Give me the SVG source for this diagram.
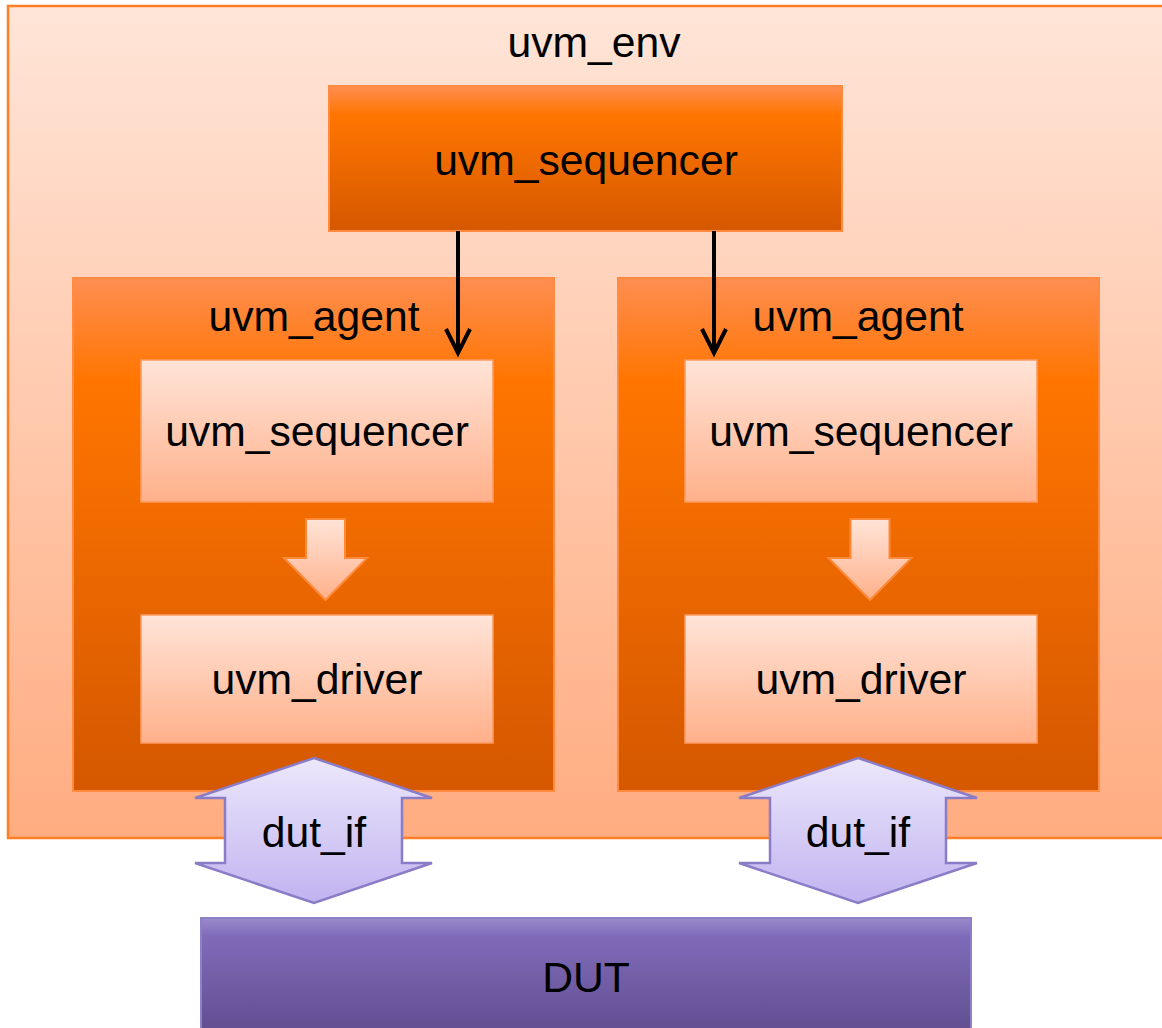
<svg xmlns="http://www.w3.org/2000/svg" width="1162" height="1028" viewBox="0 0 1162 1028">
  <defs>
    <linearGradient id="gEnv" x1="0" y1="0" x2="0" y2="1">
      <stop offset="0" stop-color="#FFE5D8"/>
      <stop offset="1" stop-color="#FFAC80"/>
    </linearGradient>
    <linearGradient id="gDark" x1="0" y1="0" x2="0" y2="1">
      <stop offset="0" stop-color="#FF8E52"/>
      <stop offset="0.2" stop-color="#FF7500"/>
      <stop offset="1" stop-color="#D55800"/>
    </linearGradient>
    <linearGradient id="gLight" x1="0" y1="0" x2="0" y2="1">
      <stop offset="0" stop-color="#FFE4D8"/>
      <stop offset="1" stop-color="#FFB08A"/>
    </linearGradient>
    <linearGradient id="gIf" x1="0" y1="0" x2="0" y2="1">
      <stop offset="0" stop-color="#ECE8FB"/>
      <stop offset="1" stop-color="#C1B3F0"/>
    </linearGradient>
    <linearGradient id="gDut" x1="0" y1="0" x2="0" y2="1">
      <stop offset="0" stop-color="#9A8BCB"/>
      <stop offset="0.15" stop-color="#7F6BB9"/>
      <stop offset="1" stop-color="#5F4D8E"/>
    </linearGradient>
    <marker id="head" markerUnits="userSpaceOnUse" viewBox="-30 -16 36 32" refX="0" refY="0" markerWidth="36" markerHeight="32" orient="auto" overflow="visible">
      <path d="M -24 -12 L 0 0 L -24 12" fill="none" stroke="#000" stroke-width="4" stroke-linejoin="miter"/>
    </marker>
  </defs>
  <style>
    text { font-family: "Liberation Sans", Arial, sans-serif; font-size: 42.7px; fill: #000; text-anchor: middle; }
    .env { fill: url(#gEnv); stroke: #FF7F27; stroke-width: 2.5; }
    .dark { fill: url(#gDark); stroke: #FF8A40; stroke-width: 2; }
    .light { fill: url(#gLight); stroke: #FF9A60; stroke-width: 1.5; }
    .flow { fill: url(#gLight); stroke: #FF8A3A; stroke-width: 2; }
    .iface { fill: url(#gIf); stroke: #8A7CC6; stroke-width: 2.5; stroke-linejoin: miter; }
    .dut { fill: url(#gDut); stroke: #8E80C4; stroke-width: 2; }
    .conn { stroke: #000; stroke-width: 4; fill: none; marker-end: url(#head); }
  </style>

  <g id="uvm_env">
    <rect class="env" x="8" y="6" width="1180" height="832"/>
    <text x="594" y="57">uvm_env</text>
  </g>

  <g id="env_sequencer">
    <rect class="dark" x="329" y="86" width="513" height="145"/>
    <text x="586" y="175">uvm_sequencer</text>
  </g>

  <g id="agent_left">
    <rect class="dark" x="73" y="278" width="481" height="513"/>
    <text x="314" y="331">uvm_agent</text>
  </g>

  <g id="agent_right">
    <rect class="dark" x="618" y="278" width="481" height="513"/>
    <text x="858" y="331">uvm_agent</text>
  </g>

  <g id="sequencer_left">
    <rect class="light" x="141" y="360" width="352" height="142"/>
    <text x="317" y="446">uvm_sequencer</text>
  </g>

  <g id="sequencer_right">
    <rect class="light" x="685" y="360" width="352" height="142"/>
    <text x="861" y="446">uvm_sequencer</text>
  </g>

  <g id="flow_left">
    <polygon class="flow" points="306,519 345,519 345,558 367,558 325.5,600 284,558 306,558"/>
  </g>

  <g id="flow_right">
    <polygon class="flow" points="850.5,519 889.5,519 889.5,558 911.5,558 870,600 828.5,558 850.5,558"/>
  </g>

  <g id="driver_left">
    <rect class="light" x="141" y="615" width="352" height="128"/>
    <text x="317" y="694">uvm_driver</text>
  </g>

  <g id="driver_right">
    <rect class="light" x="685" y="615" width="352" height="128"/>
    <text x="861" y="694">uvm_driver</text>
  </g>

  <g id="dut_if_left">
    <polygon class="iface" points="314,758 432,798 402,798 402,863 432,863 314,903 195,863 225,863 225,798 195,798"/>
    <text x="314" y="847">dut_if</text>
  </g>

  <g id="dut_if_right">
    <polygon class="iface" points="858,758 977,798 946,798 946,863 977,863 858,903 739,863 770,863 770,798 739,798"/>
    <text x="858" y="847">dut_if</text>
  </g>

  <g id="dut">
    <rect class="dut" x="201" y="918" width="770" height="120"/>
    <text x="586" y="992">DUT</text>
  </g>

  <g id="connectors">
    <path class="conn" d="M 458 231 L 458 353"/>
    <path class="conn" d="M 714 231 L 714 353"/>
  </g>
</svg>
